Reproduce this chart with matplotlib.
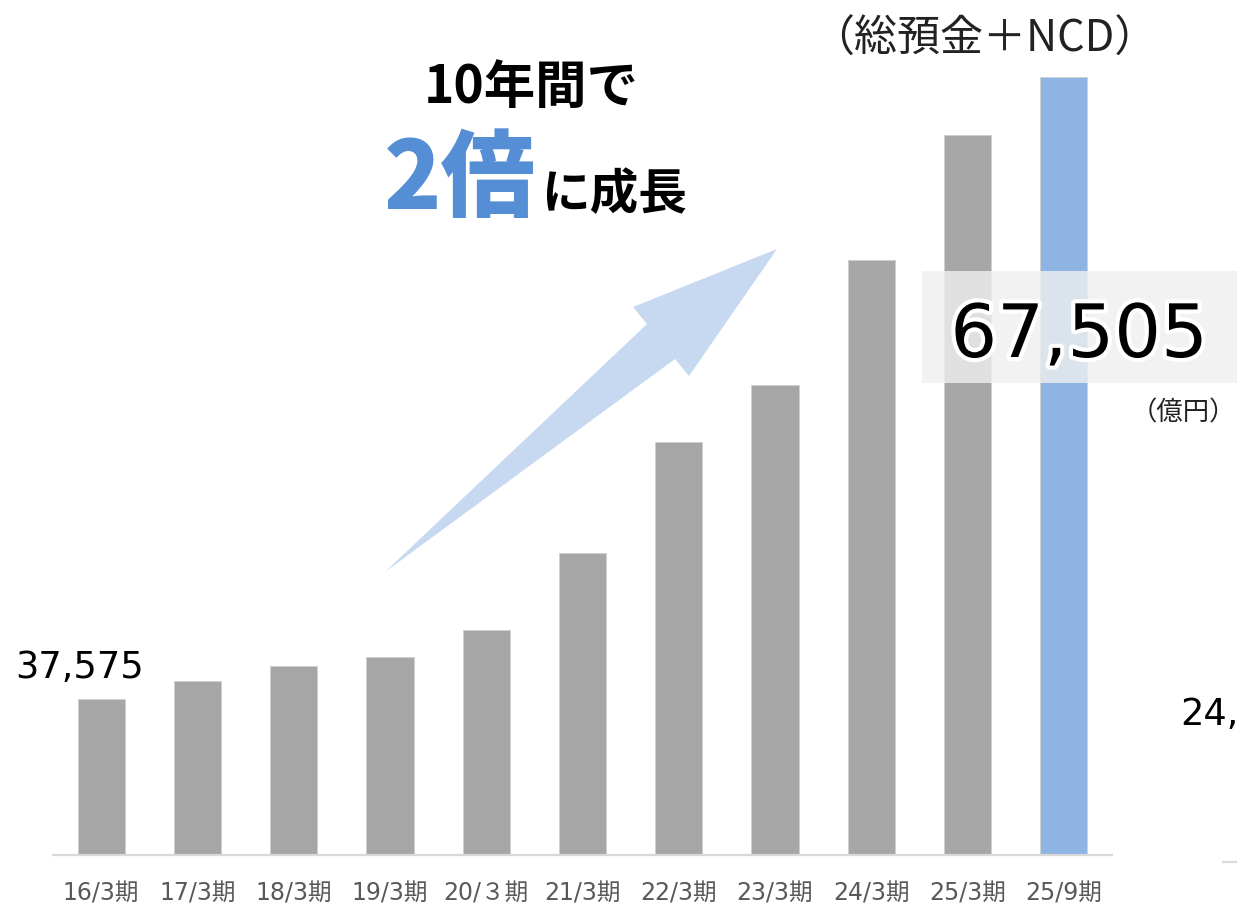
import matplotlib
matplotlib.use('Agg')
import matplotlib.pyplot as plt
import matplotlib.patheffects as pe
from matplotlib.patches import Polygon, Rectangle
from matplotlib.lines import Line2D

plt.rcParams['font.family'] = ['Noto Sans CJK JP', 'DejaVu Sans']

# 総預金+NCD (億円)
periods  = ['16/3期', '17/3期', '18/3期', '19/3期', '20/３期', '21/3期',
            '22/3期', '23/3期', '24/3期', '25/3期', '25/9期']
deposits = [37575, 38440, 39160, 39600, 40900, 44600,
            49940, 52690, 58700, 64720, 67505]
first_label = '37,575'
last_label  = '67,505'

W, H = 1237, 908
fig = plt.figure(figsize=(W / 100, H / 100), dpi=100)

def fx(px):
    return px / W

def fy(py):
    return 1 - py / H

ax = fig.add_axes([fx(53), fy(855), fx(1112) - fx(53), fy(0) - fy(855)])
colors = ['#a6a6a6'] * (len(deposits) - 1) + ['#8eb4e3']
ax.bar(range(len(deposits)), deposits, width=0.49, color=colors,
       edgecolor='#cfcfcf', linewidth=0.6, zorder=2)
ax.set_xlim(-0.5, len(deposits) - 0.5)
ax.set_ylim(30068, 71211)
ax.set_yticks([])
ax.set_xticks(range(len(periods)))
ax.set_xticklabels(periods, fontsize=17, color='#595959',
                   fontfamily=['DejaVu Sans', 'Noto Sans CJK JP'])
ax.tick_params(axis='x', length=0, pad=19)
for s in ['top', 'left', 'right']:
    ax.spines[s].set_visible(False)
ax.spines['bottom'].set_color('#d9d9d9')
ax.spines['bottom'].set_linewidth(1.6)
ax.patch.set_alpha(0)

# growth arrow
arrow_px = [(385, 572), (647, 324), (633, 307), (777, 249), (689, 376), (675, 359)]
fig.add_artist(Polygon([(fx(x), fy(y)) for x, y in arrow_px], closed=True,
                       facecolor='#c6d9f1', edgecolor='none',
                       transform=fig.transFigure, zorder=1))

# headline
fig.text(fx(531), fy(103), '10年間で', fontsize=37, fontweight='bold',
         ha='center', va='baseline', color='black')
fig.text(fx(384), fy(209), '2倍', fontsize=68, fontweight='heavy',
         ha='left', va='baseline', color='#558ed5')
fig.text(fx(541), fy(209), 'に成長', fontsize=35, fontweight='bold',
         ha='left', va='baseline', color='black')

fig.text(fx(984), fy(52), '（総預金＋NCD）', fontsize=31, ha='center',
         va='baseline', color='#222222')

# highlighted latest value
fig.add_artist(Rectangle((fx(922), fy(383)), fx(1237) - fx(922), fy(271) - fy(383),
                         facecolor='#efefef', alpha=0.8, edgecolor='none',
                         transform=fig.transFigure, zorder=2))
fig.text(fx(1079), fy(357), last_label, fontsize=53, ha='center', va='baseline',
         color='black', fontfamily='DejaVu Sans', zorder=4,
         path_effects=[pe.withStroke(linewidth=6, foreground='white')])
fig.text(fx(1236), fy(420), '（億円）', fontsize=19, ha='right', va='baseline',
         color='#222222')

fig.text(fx(80), fy(678), first_label, fontsize=26.5, ha='center', va='baseline',
         color='black', fontfamily='DejaVu Sans')
fig.text(fx(1180), fy(725), '24,', fontsize=26.5, ha='left', va='baseline',
         color='black', fontfamily='DejaVu Sans')

fig.add_artist(Line2D([fx(1223), fx(1237)], [fy(862), fy(862)], color='#d9d9d9',
                      linewidth=1.6, transform=fig.transFigure))

fig.savefig('out.png', dpi=100)
